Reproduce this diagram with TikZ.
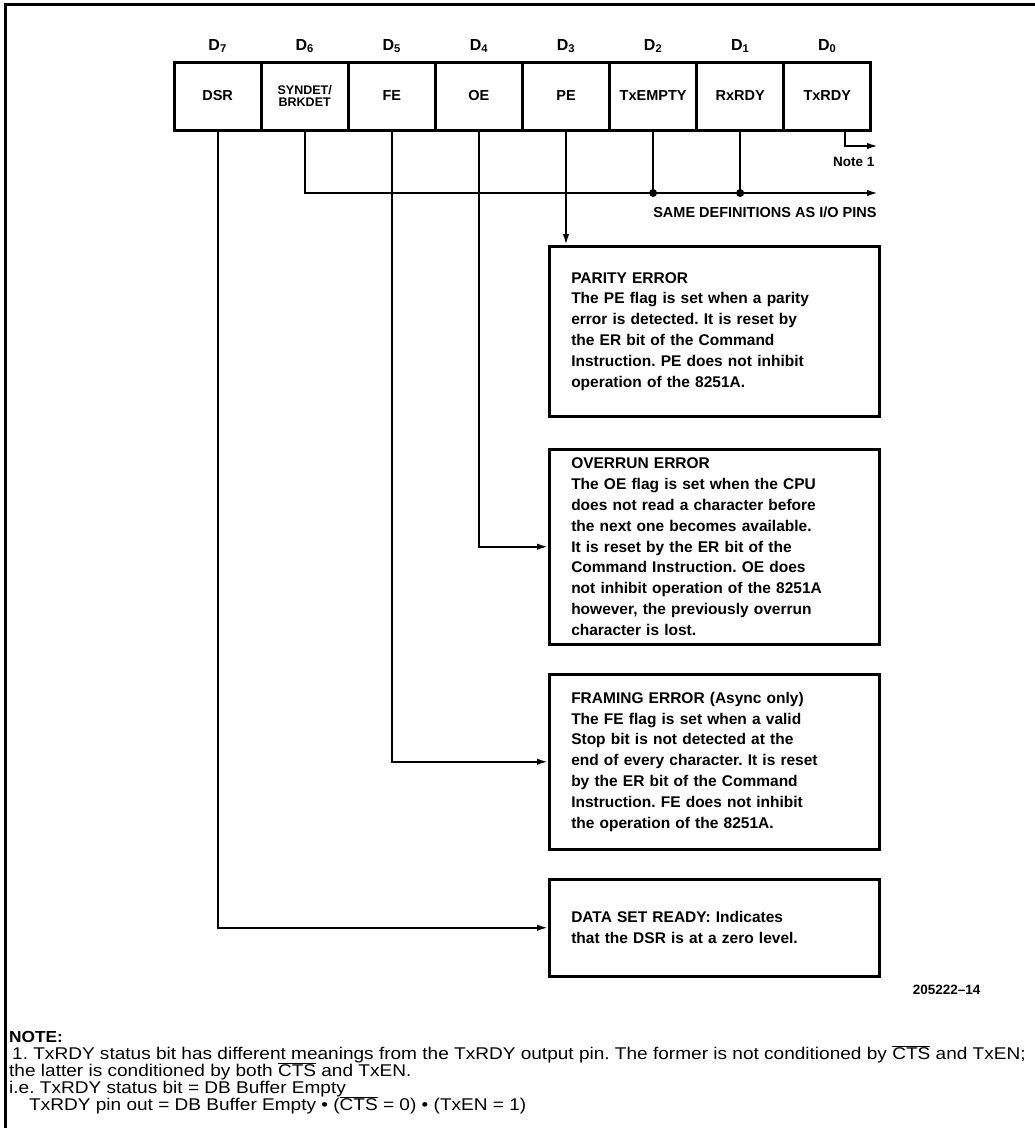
\documentclass[tikz,border=0pt]{standalone}
\usepackage{fontspec}
\setmainfont{Liberation Sans}
\usetikzlibrary{arrows.meta,calc}
\frenchspacing
\begin{document}
\begin{tikzpicture}[x=1pt,y=-1pt,
  cell/.style={draw,line width=3pt,minimum width=87.1pt,minimum height=68pt,inner sep=0pt,align=center,font=\fontsize{14.5}{15}\bfseries\selectfont},
  dlab/.style={font=\fontsize{16}{16}\bfseries\selectfont},
  box/.style={draw,line width=2.5pt,anchor=north west,inner xsep=22pt,text width=286pt,align=left,font=\fontsize{15.5}{20.8}\bfseries\selectfont},
  conn/.style={line width=2pt,-{Latex[length=11pt,width=6.5pt]}},
  wire/.style={line width=2pt},
  lbl/.style={font=\fontsize{14.5}{15}\bfseries\selectfont},
  notefont/.style={font=\fontsize{17}{17}\selectfont,inner sep=0pt,anchor=base west}
]
\useasboundingbox (0,0) rectangle (1035,1128);
% frame
\draw[line width=3pt] (5,1128) -- (5,4) -- (1035,4);

% register cells
\node[cell] (c7) at (217.6,96) {DSR};
\node[cell,font=\fontsize{12.5}{12}\bfseries\selectfont] (c6) at (304.7,96) {SYNDET/\\BRKDET};
\node[cell] (c5) at (391.8,96) {FE};
\node[cell] (c4) at (478.9,96) {OE};
\node[cell] (c3) at (566.0,96) {PE};
\node[cell] (c2) at (653.1,96) {TxEMPTY};
\node[cell] (c1) at (740.2,96) {RxRDY};
\node[cell] (c0) at (827.3,96) {TxRDY};

% bit labels
\node[dlab] (d7) at (217.6,46) {D\textsubscript{7}};
\node[dlab] (d6) at (304.7,46) {D\textsubscript{6}};
\node[dlab] (d5) at (391.8,46) {D\textsubscript{5}};
\node[dlab] (d4) at (478.9,46) {D\textsubscript{4}};
\node[dlab] (d3) at (566.0,46) {D\textsubscript{3}};
\node[dlab] (d2) at (653.1,46) {D\textsubscript{2}};
\node[dlab] (d1) at (740.2,46) {D\textsubscript{1}};
\node[dlab] (d0) at (827.3,46) {D\textsubscript{0}};

% description boxes
\node[box,minimum height=170pt] (pbox) at (548,245) {PARITY ERROR\\
The PE flag is set when a parity\\
error is detected. It is reset by\\
the ER bit of the Command\\
Instruction. PE does not inhibit\\
operation of the 8251A.};

\node[box,minimum height=195pt] (obox) at (548,448) {OVERRUN ERROR\\
The OE flag is set when the CPU\\
does not read a character before\\
the next one becomes available.\\
It is reset by the ER bit of the\\
Command Instruction. OE does\\
not inhibit operation of the 8251A\\
however, the previously overrun\\
character is lost.};

\node[box,minimum height=175pt] (fbox) at (548,673) {FRAMING ERROR (Async only)\\
The FE flag is set when a valid\\
Stop bit is not detected at the\\
end of every character. It is reset\\
by the ER bit of the Command\\
Instruction. FE does not inhibit\\
the operation of the 8251A.};

\node[box,minimum height=97pt] (dbox) at (548,878) {DATA SET READY: Indicates\\
that the DSR is at a zero level.};

% connectors
\coordinate (busend) at (878,193);
\coordinate (n1end) at (878,146);
\draw[conn] (c6.south) |- (busend);
\draw[wire] (c2.south) -- (c2.south |- busend);
\draw[wire] (c1.south) -- (c1.south |- busend);
\fill (c2.south |- busend) circle (4pt);
\fill (c1.south |- busend) circle (4pt);
\draw[conn] ([xshift=18pt]c0.south) |- (n1end);
\draw[conn] (c3.south) -- (c3.south |- pbox.north);
\draw[conn] (c4.south) |- (obox.west);
\draw[conn] (c5.south) |- (fbox.west);
\draw[conn] (c7.south) |- (dbox.west);

% labels
\node[lbl,anchor=east,font=\fontsize{13.5}{14}\bfseries\selectfont] (note1) at (878,162) {Note 1};
\node[lbl,anchor=east] (same) at (880,212) {SAME DEFINITIONS AS I/O PINS};
\node[anchor=east,font=\fontsize{13.5}{14}\bfseries\selectfont] (fig) at (984,990) {205222–14};

% note
\node[notefont,font=\fontsize{16}{17}\bfseries\selectfont] (nh) at (9,1042) {\scalebox{1.08}[1]{NOTE:}};
\node[notefont] (nl1) at (12,1059) {\scalebox{1.12}[1]{1. TxRDY status bit has different meanings from the TxRDY output pin. The former is not conditioned by $\overline{\mbox{CTS}}$ and TxEN;}};
\node[notefont] (nl2) at (9,1076) {\scalebox{1.12}[1]{the latter is conditioned by both $\overline{\mbox{CTS}}$ and TxEN.}};
\node[notefont] (nl3) at (9,1093) {\scalebox{1.12}[1]{i.e. TxRDY status bit = DB Buffer Empty}};
\node[notefont] (nl4) at (29,1110) {\scalebox{1.12}[1]{TxRDY pin out = DB Buffer Empty • ($\overline{\mbox{CTS}}$ = 0) • (TxEN = 1)}};
\end{tikzpicture}
\end{document}
